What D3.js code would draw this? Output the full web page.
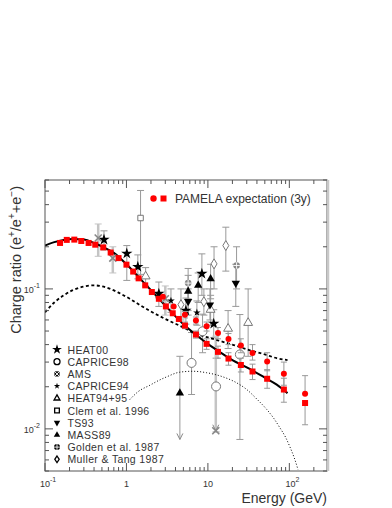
<!DOCTYPE html>
<html>
<head>
<meta charset="utf-8">
<script src="https://cdn.jsdelivr.net/npm/d3@7"></script>
<style>
  body { margin: 0; background: #fff; }
  svg { display: block; font-family: "Liberation Sans", Arial, sans-serif; }
</style>
</head>
<body>
<svg id="chart" width="392" height="508"></svg>
<script>
// Positron fraction vs energy: models, PAMELA expectation, older balloon data.

// ---- model curves [E (GeV), ratio] ----
const solidCurve = [
  [0.1, 0.204], [0.13, 0.216], [0.17, 0.224], [0.22, 0.227], [0.3, 0.225], [0.4, 0.213],
  [0.5, 0.201], [0.7, 0.181], [1, 0.150], [1.5, 0.117], [2, 0.098], [3, 0.076], [5, 0.056],
  [7, 0.0475], [10, 0.0405], [15, 0.0345], [20, 0.031], [30, 0.0275], [50, 0.0232],
  [70, 0.0207], [95, 0.0180]
];
const dashedCurve = [
  [0.1, 0.068], [0.13, 0.080], [0.17, 0.090], [0.22, 0.098], [0.3, 0.104], [0.4, 0.106],
  [0.55, 0.103], [0.8, 0.094], [1.1, 0.085], [1.5, 0.076], [2, 0.069], [3, 0.061],
  [5, 0.053], [7, 0.048], [10, 0.045], [15, 0.042], [20, 0.040], [30, 0.037],
  [50, 0.034], [70, 0.032], [95, 0.031]
];
const dottedCurve = [
  [1.1, 0.0162], [1.4, 0.0185], [1.94, 0.0205], [2.5, 0.0222], [3.1, 0.0235], [4.5, 0.0254],
  [6.5, 0.0258], [9.6, 0.0252], [15.4, 0.0235], [22, 0.0215], [30, 0.0191], [40, 0.0163],
  [52.6, 0.0138], [65, 0.0118], [76.4, 0.0102], [90, 0.0087], [101, 0.0075], [115, 0.0062],
  [128, 0.0051]
];

// ---- PAMELA expectation [E, value, errLow, errHigh] ----
const pamelaSquares = [
  [0.153, 0.213], [0.185, 0.224], [0.229, 0.225], [0.279, 0.220], [0.343, 0.213],
  [0.414, 0.207], [0.519, 0.198], [0.64, 0.182], [0.80, 0.166], [1.0, 0.149],
  [1.21, 0.133], [1.41, 0.119], [1.7, 0.106], [2.05, 0.095], [2.5, 0.085], [3.05, 0.075],
  [3.7, 0.067], [4.4, 0.061], [5.23, 0.0547, 0.052, 0.058], [7.13, 0.0472, 0.0445, 0.050],
  [9.64, 0.0405, 0.037, 0.044], [13.3, 0.0355, 0.032, 0.039], [17.9, 0.0318, 0.0285, 0.035],
  [25.4, 0.0286, 0.0255, 0.032], [35.3, 0.0257, 0.0225, 0.029], [53.4, 0.0228, 0.0195, 0.0265],
  [85.7, 0.0191, 0.0155, 0.023], [156, 0.0153, 0.0107, 0.0153]
];
const pamelaCircles = [
  [2.8, 0.088], [3.8, 0.075], [5.23, 0.0655, 0.062, 0.069], [7.13, 0.0594, 0.056, 0.063],
  [9.64, 0.054, 0.050, 0.058], [13.3, 0.0485, 0.044, 0.053], [17.9, 0.0439, 0.040, 0.048],
  [25.4, 0.0394, 0.035, 0.044], [35.3, 0.0349, 0.031, 0.040], [53.4, 0.0303, 0.026, 0.035],
  [85.7, 0.0248, 0.0205, 0.030], [156, 0.0178, 0.0178, 0.024]
];

// ---- other experiments [E, value, errLow, errHigh, arrow] ----
const heat00 = [
  [0.53, 0.225, 0.19, 0.26], [1.01, 0.179, 0.115, 0.204], [1.38, 0.144, 0.118, 0.175],
  [2.5, 0.0925, 0.075, 0.112], [5.37, 0.070, 0.056, 0.086], [8.44, 0.1285, 0.09, 0.178],
  [11.8, 0.0565, 0.045, 0.071]
];
const caprice98 = [
  [6.3, 0.0296, 0.0176, 0.0488], [8.6, 0.0498, 0.035, 0.066], [12.6, 0.0201, 0.0095, 0.032],
  [24.7, 0.034, 0.0084, 0.0656]
];
const ams = [
  [0.45, 0.231, 0.171, 0.291], [0.68, 0.166, 0.13, 0.20], [3.0, 0.085, 0.065, 0.105],
  [12.5, 0.0097, 0.0097, 0.046, 1]
];
const caprice94 = [[3.52, 0.0824, 0.068, 0.10], [7.33, 0.0677, 0.055, 0.082]];
const heat9495 = [
  [1.72, 0.123, 0.105, 0.142], [10.8, 0.071, 0.055, 0.09], [17.7, 0.052, 0.0375, 0.07],
  [31.2, 0.0572, 0.033, 0.10]
];
const clem96 = [[1.49, 0.321, 0.127, 0.505]];
const ts93 = [[5.72, 0.0815, 0.065, 0.10], [10.6, 0.077, 0.06, 0.10], [22, 0.11, 0.075, 0.15]];
const mass89 = [
  [4.53, 0.018, 0.0084, 0.033, 1], [5.72, 0.096, 0.07, 0.125], [7.6, 0.106, 0.08, 0.13],
  [10.8, 0.118, 0.085, 0.15]
];
const golden87 = [[5.72, 0.110, 0.085, 0.14], [22.5, 0.147, 0.10, 0.20]];
const muller87 = [
  [4.67, 0.0772, 0.06, 0.10], [8.93, 0.081, 0.065, 0.10], [11.9, 0.151, 0.10, 0.20],
  [16.6, 0.204, 0.134, 0.276]
];

const legendNames = ['HEAT00', 'CAPRICE98', 'AMS', 'CAPRICE94', 'HEAT94+95',
  'Clem et al. 1996', 'TS93', 'MASS89', 'Golden et al. 1987', 'Muller & Tang 1987'];
const xTickLabels = [[0.1, '10', '-1'], [1, '1', ''], [10, '10', ''], [100, '10', '2']];
const yTickLabels = [[0.1, '10', '-1'], [0.01, '10', '-2']];

const svg = d3.select('#chart');
const L = 45, R = 327, T = 180, B = 471;
const x = d3.scaleLog().domain([0.1, 290]).range([L, R]);
const y = d3.scaleLog().domain([0.005, 0.6]).range([B, T]);

svg.append('defs').append('clipPath').attr('id', 'clip')
  .append('rect').attr('x', L).attr('y', T).attr('width', R - L).attr('height', B - T);
const plot = svg.append('g').attr('clip-path', 'url(#clip)');

// symbol drawing; legend markers are drawn a bit smaller and in black
const symX = d3.symbolX || d3.symbolCross;
const experiments = [
  { data: heat00, kind: 'star' }, { data: caprice98, kind: 'ocircle' }, { data: ams, kind: 'x' },
  { data: caprice94, kind: 'smallstar' }, { data: heat9495, kind: 'otri' }, { data: clem96, kind: 'osquare' },
  { data: ts93, kind: 'dtri' }, { data: mass89, kind: 'utri' }, { data: golden87, kind: 'golden' },
  { data: muller87, kind: 'odiamond' }
];

function drawSymbol(g, kind, px, py, legend) {
  const s = g.append('g').attr('transform', `translate(${px},${py})`);
  const path = (type, size) => s.append('path').attr('d', d3.symbol().type(type).size(size)());
  const edge = legend ? '#000' : '#777', sw = legend ? 1.3 : 1;
  switch (kind) {
    case 'star': path(d3.symbolStar, legend ? 30 : 40).attr('fill', '#000'); break;
    case 'smallstar': path(d3.symbolStar, legend ? 12 : 18).attr('fill', '#000'); break;
    case 'ocircle': s.append('circle').attr('r', legend ? 3 : 4.5).attr('fill', '#fff').attr('stroke', edge).attr('stroke-width', sw); break;
    case 'x':
      if (legend) path(d3.symbolSquare, 26).attr('fill', '#000');
      path(symX, legend ? 30 : 34).attr('fill', 'none').attr('stroke', legend ? '#fff' : '#888').attr('stroke-width', legend ? 1 : 1.6);
      break;
    case 'otri': path(d3.symbolTriangle, legend ? 15 : 34).attr('fill', '#fff').attr('stroke', edge).attr('stroke-width', sw); break;
    case 'osquare': path(d3.symbolSquare, legend ? 22 : 30).attr('fill', '#fff').attr('stroke', edge).attr('stroke-width', sw); break;
    case 'dtri': path(d3.symbolTriangle, legend ? 18 : 30).attr('fill', '#000').attr('transform', 'rotate(180)'); break;
    case 'utri': path(d3.symbolTriangle, legend ? 18 : 30).attr('fill', '#000'); break;
    case 'golden':
      s.append('circle').attr('r', legend ? 3 : 3.3).attr('fill', legend ? '#000' : '#888');
      s.append('path').attr('d', 'M-3.3,0H3.3M0,-3.3V3.3').attr('stroke', '#fff').attr('stroke-width', 0.9);
      break;
    case 'odiamond':
      s.append('path').attr('d', legend ? 'M0,-3.3L2.2,0L0,3.3L-2.2,0Z' : 'M0,-5L3,0L0,5L-3,0Z')
        .attr('fill', '#fff').attr('stroke', edge).attr('stroke-width', sw);
      break;
  }
}

function errorBar(g, d, color, width, cap) {
  if (d[2] === undefined) return;
  const px = x(d[0]);
  g.append('line').attr('x1', px).attr('x2', px).attr('y1', y(d[2])).attr('y2', y(d[3]))
    .attr('stroke', color).attr('stroke-width', width);
  [d[2], d[3]].forEach((v, i) => {
    if (d[4] && i === 0) {
      g.append('path').attr('d', `M${px - 3},${y(v) - 6}L${px},${y(v)}L${px + 3},${y(v) - 6}`)
        .attr('fill', 'none').attr('stroke', '#888').attr('stroke-width', 1);
    } else {
      g.append('line').attr('x1', px - cap).attr('x2', px + cap).attr('y1', y(v)).attr('y2', y(v))
        .attr('stroke', color).attr('stroke-width', 1);
    }
  });
}

// error bars of the older data
const errG = plot.append('g');
experiments.forEach(e => e.data.forEach(d => errG.call(g => errorBar(g, d, e.kind === 'x' ? '#c4c4c4' : '#999', e.kind === 'x' ? 2.5 : 1, 3.5))));

// model curves
const line = d3.line().x(d => x(d[0])).y(d => y(d[1])).curve(d3.curveMonotoneX);
plot.append('path').datum(dottedCurve).attr('d', line).attr('fill', 'none')
  .attr('stroke', '#000').attr('stroke-width', 1).attr('stroke-dasharray', '1,2');
plot.append('path').datum(dashedCurve).attr('d', line).attr('fill', 'none')
  .attr('stroke', '#000').attr('stroke-width', 1.8).attr('stroke-dasharray', '3,2.5');
plot.append('path').datum(solidCurve).attr('d', line).attr('fill', 'none')
  .attr('stroke', '#000').attr('stroke-width', 2);

// older data markers
experiments.forEach(e => e.data.forEach(d => drawSymbol(plot, e.kind, x(d[0]), y(d[1]), false)));

// PAMELA
const pamG = plot.append('g');
pamelaSquares.concat(pamelaCircles).forEach(d => pamG.call(g => errorBar(g, d, '#999', 1, 3)));
pamG.selectAll('rect.pam').data(pamelaSquares).enter().append('rect')
  .attr('x', d => x(d[0]) - 3).attr('y', d => y(d[1]) - 3).attr('width', 6).attr('height', 6).attr('fill', '#f00');
pamG.selectAll('circle.pam').data(pamelaCircles).enter().append('circle')
  .attr('cx', d => x(d[0])).attr('cy', d => y(d[1])).attr('r', 3).attr('fill', '#f00');

// frame and ticks
const axisColor = '#555';
svg.append('rect').attr('x', L).attr('y', T).attr('width', R - L).attr('height', B - T)
  .attr('fill', 'none').attr('stroke', axisColor).attr('stroke-width', 1);
svg.append('line').attr('x1', R + 1).attr('x2', R + 1).attr('y1', T).attr('y2', B)
  .attr('stroke', '#c8c8c8').attr('stroke-width', 2.5);
const ticksG = svg.append('g').attr('stroke', axisColor).attr('stroke-width', 1);
x.ticks().forEach(t => {
  const major = Math.abs(Math.log10(t) - Math.round(Math.log10(t))) < 1e-6;
  const len = major ? 8 : 4, px = x(t);
  ticksG.append('line').attr('x1', px).attr('x2', px).attr('y1', B).attr('y2', B - len);
  ticksG.append('line').attr('x1', px).attr('x2', px).attr('y1', T).attr('y2', T + len);
});
y.ticks().forEach(t => {
  const major = Math.abs(Math.log10(t) - Math.round(Math.log10(t))) < 1e-6;
  const len = major ? 8 : 4, py = y(t);
  ticksG.append('line').attr('x1', L).attr('x2', L + len).attr('y1', py).attr('y2', py);
  ticksG.append('line').attr('x1', R).attr('x2', R - len).attr('y1', py).attr('y2', py);
});

// tick labels
function powLabel(g, px, py, base, exp, anchor) {
  const t = g.append('text').attr('x', px).attr('y', py).attr('text-anchor', anchor)
    .attr('font-size', 9).attr('fill', '#333');
  t.append('tspan').text(base);
  if (exp) t.append('tspan').attr('dy', -5).attr('font-size', 7).text(exp);
}
xTickLabels.forEach(d => powLabel(svg, x(d[0]) + (d[2] ? 3 : 0), B + 16, d[1], d[2], 'middle'));
yTickLabels.forEach(d => powLabel(svg, 40, y(d[0]) + 4, d[1], d[2], 'end'));

// axis titles
svg.append('text').attr('x', R).attr('y', 503).attr('text-anchor', 'end')
  .attr('font-size', 14).attr('fill', '#333').text('Energy (GeV)');
const yt = svg.append('text').attr('transform', 'translate(21,186) rotate(-90)')
  .attr('text-anchor', 'end').attr('font-size', 14.5).attr('fill', '#333');
[['Charge ratio (e', 0], ['+', 1], ['/e', 0], ['+', 1], ['+e', 0], ['\u2212', 1], [')', 0]].forEach((p, i, a) => {
  const prev = i > 0 ? a[i - 1][1] : 0;
  const ts = yt.append('tspan').text(p[0]).attr('dy', p[1] === prev ? 0 : (p[1] ? -6 : 6));
  if (p[1]) ts.attr('font-size', 10);
});

// legends
const leg = svg.append('g');
legendNames.forEach((name, i) => {
  const py = 349.5 + i * 12.2;
  drawSymbol(leg, experiments[i].kind, 57, py, true);
  leg.append('text').attr('x', 67.5).attr('y', py + 4).attr('font-size', 10.5)
    .attr('letter-spacing', 0.35).attr('fill', '#333').text(name);
});
leg.append('circle').attr('cx', 153.5).attr('cy', 198.5).attr('r', 3.2).attr('fill', '#f00');
leg.append('rect').attr('x', 160.5).attr('y', 195.5).attr('width', 6).attr('height', 6).attr('fill', '#f00');
leg.append('text').attr('x', 175).attr('y', 202.5).attr('font-size', 12).attr('fill', '#333')
  .text('PAMELA expectation (3y)');
</script>
</body>
</html>
